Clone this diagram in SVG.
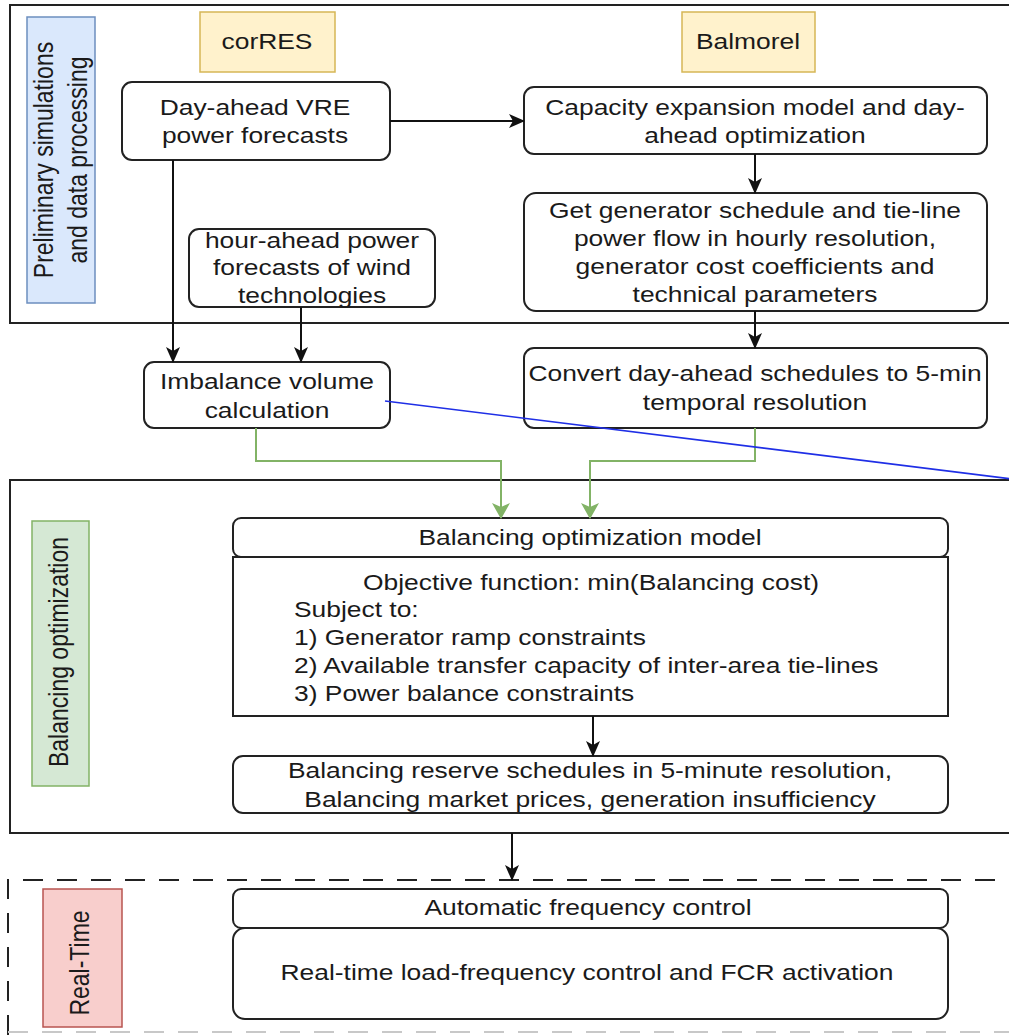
<svg xmlns="http://www.w3.org/2000/svg" width="1009" height="1035" viewBox="0 0 1009 1035">
  <style>
    .box { fill: #ffffff; stroke: #222222; stroke-width: 2; }
    .frame { fill: none; stroke: #222222; stroke-width: 2; }
    .tool { fill: #fff2cc; stroke: #d6b656; stroke-width: 1.5; }
    .lblue { fill: #dae8fc; stroke: #6c8ebf; stroke-width: 1.5; }
    .lgreen { fill: #d5e8d4; stroke: #82b366; stroke-width: 1.5; }
    .lred { fill: #f8cecc; stroke: #b85450; stroke-width: 1.5; }
    text { font-family: "Liberation Sans", Arial, sans-serif; font-size: 22px; fill: #1a1a1a; }
    .c { text-anchor: middle; }
    .rot { font-size: 23px; text-anchor: middle; }
    .edge { fill: none; stroke: #111111; stroke-width: 2; marker-end: url(#arr); }
    .gedge { fill: none; stroke: #82b366; stroke-width: 2; marker-end: url(#garr); }
  </style>
  <defs>
    <marker id="arr" markerWidth="16" markerHeight="14" refX="15" refY="7" orient="auto" markerUnits="userSpaceOnUse">
      <path d="M0,0 L16,7 L0,14 L4,7 Z" fill="#111111"/>
    </marker>
    <marker id="garr" markerWidth="16" markerHeight="18" refX="15" refY="9" orient="auto" markerUnits="userSpaceOnUse">
      <path d="M0,0 L16,9 L0,18 L4,9 Z" fill="#82b366"/>
    </marker>
  </defs>
  <rect width="1009" height="1035" fill="#ffffff"/>

  <!-- stage frames -->
  <g id="stage-preliminary">
    <rect class="frame" x="10" y="5" width="1010" height="318"/>
    <rect class="lblue" x="27" y="17" width="68" height="286"/>
    <text class="rot" transform="translate(53 160) scale(1.2 1) rotate(-90)">Preliminary simulations</text>
    <text class="rot" transform="translate(87 160) scale(1.2 1) rotate(-90)">and data processing</text>
  </g>
  <g id="stage-balancing">
    <rect class="frame" x="10" y="480" width="1010" height="353"/>
    <rect class="lgreen" x="32" y="521" width="57" height="265"/>
    <text class="rot" transform="translate(68 652) scale(1.2 1) rotate(-90)">Balancing optimization</text>
  </g>
  <g id="stage-realtime">
    <path d="M8,1035 V880 H1012" fill="none" stroke="#222222" stroke-width="2" stroke-dasharray="20 14"/>
    <path d="M8,1032 H1012" fill="none" stroke="#c8c8c8" stroke-width="2" stroke-dasharray="20 14"/>
    <rect class="lred" x="43" y="889" width="79" height="138"/>
    <text class="rot" transform="translate(89 963) scale(1.2 1) rotate(-90)">Real-Time</text>
  </g>

  <!-- tool tags -->
  <g id="tag-corres">
    <rect class="tool" x="200" y="12" width="135" height="60"/>
    <text class="c" transform="translate(267 0) scale(1.2 1)" y="49">corRES</text>
  </g>
  <g id="tag-balmorel">
    <rect class="tool" x="682" y="12" width="133" height="60"/>
    <text class="c" transform="translate(748 0) scale(1.2 1)" y="49">Balmorel</text>
  </g>

  <!-- process nodes -->
  <g id="node-vre-forecast">
    <rect class="box" x="122" y="82" width="268" height="78" rx="10"/>
    <text class="c" transform="translate(255 0) scale(1.2 1)"><tspan x="0" y="115">Day-ahead VRE</tspan><tspan x="0" y="143">power forecasts</tspan></text>
  </g>
  <g id="node-capacity-expansion">
    <rect class="box" x="524" y="87" width="463" height="67" rx="10"/>
    <text class="c" transform="translate(755 0) scale(1.2 1)"><tspan x="0" y="115">Capacity expansion model and day-</tspan><tspan x="0" y="143">ahead optimization</tspan></text>
  </g>
  <g id="node-generator-schedule">
    <rect class="box" x="524" y="193" width="463" height="118" rx="12"/>
    <text class="c" transform="translate(755 0) scale(1.2 1)"><tspan x="0" y="218">Get generator schedule and tie-line</tspan><tspan x="0" y="246">power flow in hourly resolution,</tspan><tspan x="0" y="274">generator cost coefficients and</tspan><tspan x="0" y="302">technical parameters</tspan></text>
  </g>
  <g id="node-hour-ahead">
    <rect class="box" x="189" y="229" width="246" height="78" rx="10"/>
    <text class="c" transform="translate(312 0) scale(1.2 1)"><tspan x="0" y="248">hour-ahead power</tspan><tspan x="0" y="275">forecasts of wind</tspan><tspan x="0" y="303">technologies</tspan></text>
  </g>
  <g id="node-imbalance">
    <rect class="box" x="144" y="362" width="246" height="66" rx="10"/>
    <text class="c" transform="translate(267 0) scale(1.2 1)"><tspan x="0" y="389">Imbalance volume</tspan><tspan x="0" y="418">calculation</tspan></text>
  </g>
  <g id="node-convert">
    <rect class="box" x="524" y="348" width="463" height="80" rx="10"/>
    <text class="c" transform="translate(755 0) scale(1.2 1)"><tspan x="0" y="381">Convert day-ahead schedules to 5-min</tspan><tspan x="0" y="410">temporal resolution</tspan></text>
  </g>
  <g id="node-balancing-model">
    <rect class="box" x="233" y="518" width="715" height="39" rx="8"/>
    <rect class="box" x="233" y="557" width="715" height="159"/>
    <text class="c" transform="translate(590 0) scale(1.2 1)" y="545">Balancing optimization model</text>
    <text class="c" transform="translate(591 0) scale(1.2 1)" y="590">Objective function: min(Balancing cost)</text>
    <text transform="translate(294 0) scale(1.2 1)"><tspan x="0" y="617">Subject to:</tspan><tspan x="0" y="645">1) Generator ramp constraints</tspan><tspan x="0" y="673">2) Available transfer capacity of inter-area tie-lines</tspan><tspan x="0" y="701">3) Power balance constraints</tspan></text>
  </g>
  <g id="node-reserve-schedules">
    <rect class="box" x="233" y="756" width="715" height="57" rx="10"/>
    <text class="c" transform="translate(590 0) scale(1.2 1)"><tspan x="0" y="778">Balancing reserve schedules in 5-minute resolution,</tspan><tspan x="0" y="807">Balancing market prices, generation insufficiency</tspan></text>
  </g>
  <g id="node-afc">
    <rect class="box" x="233" y="889" width="715" height="39" rx="8"/>
    <rect class="box" x="233" y="928" width="715" height="91" rx="12"/>
    <text class="c" transform="translate(588 0) scale(1.2 1)" y="915">Automatic frequency control</text>
    <text class="c" transform="translate(587 0) scale(1.2 1)" y="980">Real-time load-frequency control and FCR activation</text>
  </g>

  <!-- connectors -->
  <g id="connectors">
    <path class="edge" d="M390,121 H524"/>
    <path class="edge" d="M173,160 V362"/>
    <path class="edge" d="M301,307 V362"/>
    <path class="edge" d="M755,154 V193"/>
    <path class="edge" d="M755,311 V348"/>
    <path class="gedge" d="M256,428 V461 H501 V518"/>
    <path class="gedge" d="M755,428 V461 H590 V518"/>
    <path class="edge" d="M593,716 V756"/>
    <path class="edge" d="M512,833 V880"/>
    <path d="M385,401 L1012,479" fill="none" stroke="#1f2fe6" stroke-width="1.6"/>
  </g>
</svg>
